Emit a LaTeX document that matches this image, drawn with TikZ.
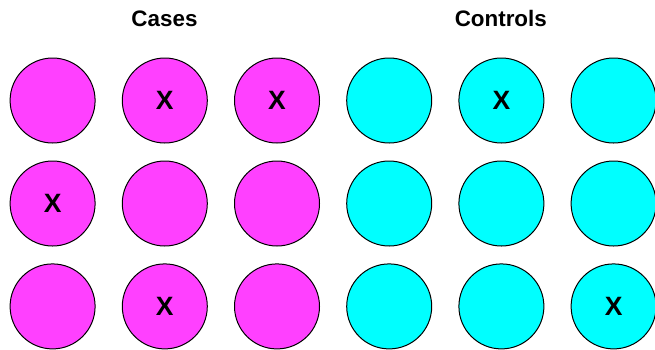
\documentclass[tikz,border=0pt]{standalone}
\usepackage{fontspec}
\setmainfont{Liberation Sans}
\definecolor{casecol}{RGB}{255,64,255}
\definecolor{ctrlcol}{RGB}{0,255,255}
\begin{document}
\begin{tikzpicture}[x=1pt,y=-1pt,
  ball/.style={circle, draw=black, line width=1pt, minimum size=85pt, inner sep=0pt,
    font=\fontsize{26.5}{30}\selectfont\bfseries},
  casebal/.style={ball, fill=casecol},
  ctrlbal/.style={ball, fill=ctrlcol},
  titletext/.style={font=\fontsize{22.4}{27}\selectfont\bfseries, anchor=base}]
\useasboundingbox (0,0) rectangle (655,349);
\clip (0,0) rectangle (655,349);
\node[titletext] (tcases) at (164.5,26.7) {Cases};
\node[titletext] (tctrl) at (500.8,26.7) {Controls};
% row 1
\node[casebal] (a11) at (52.6,100.5) {};
\node[casebal] (a12) at (164.8,100.5) {X};
\node[casebal] (a13) at (277.0,100.5) {X};
\node[ctrlbal] (a14) at (389.2,100.5) {};
\node[ctrlbal] (a15) at (501.4,100.5) {X};
\node[ctrlbal] (a16) at (613.6,100.5) {};
% row 2
\node[casebal] (a21) at (52.6,203.5) {X};
\node[casebal] (a22) at (164.8,203.5) {};
\node[casebal] (a23) at (277.0,203.5) {};
\node[ctrlbal] (a24) at (389.2,203.5) {};
\node[ctrlbal] (a25) at (501.4,203.5) {};
\node[ctrlbal] (a26) at (613.6,203.5) {};
% row 3
\node[casebal] (a31) at (52.6,306.4) {};
\node[casebal] (a32) at (164.8,306.4) {X};
\node[casebal] (a33) at (277.0,306.4) {};
\node[ctrlbal] (a34) at (389.2,306.4) {};
\node[ctrlbal] (a35) at (501.4,306.4) {};
\node[ctrlbal] (a36) at (613.6,306.4) {X};
\end{tikzpicture}
\end{document}
